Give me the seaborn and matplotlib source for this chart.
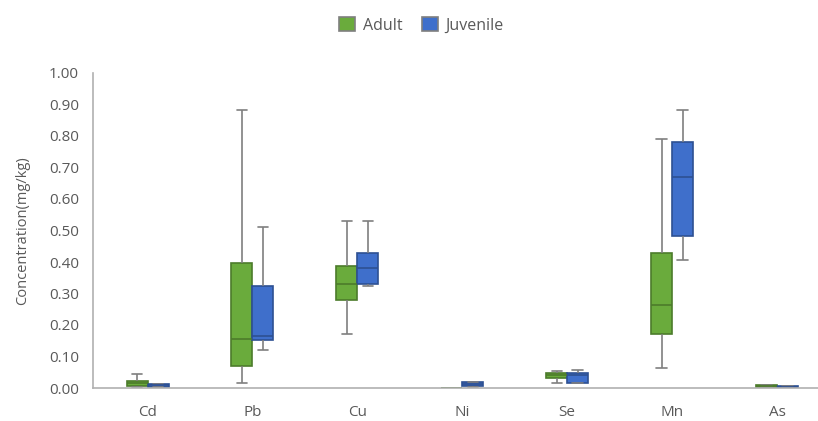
import numpy as np
import pandas as pd
import matplotlib.pyplot as plt
import matplotlib.colors as mcolors
import seaborn as sns

# five-number summaries: [min, q1, median, q3, max]
elements = ["Cd", "Pb", "Cu", "Ni", "Se", "Mn", "As"]
groups = ["Adult", "Juvenile"]

adult = {
    "Cd": [0.003, 0.005, 0.015, 0.022, 0.044],
    "Pb": [0.016, 0.070, 0.155, 0.396, 0.883],
    "Cu": [0.170, 0.280, 0.330, 0.386, 0.530],
    "Ni": [0.000, 0.000, 0.000, 0.000, 0.000],
    "Se": [0.016, 0.032, 0.040, 0.048, 0.055],
    "Mn": [0.063, 0.170, 0.263, 0.430, 0.790],
    "As": [0.002, 0.004, 0.006, 0.009, 0.010],
}
juvenile = {
    "Cd": [0.002, 0.004, 0.008, 0.012, 0.013],
    "Pb": [0.120, 0.152, 0.165, 0.323, 0.510],
    "Cu": [0.325, 0.330, 0.380, 0.427, 0.530],
    "Ni": [0.004, 0.006, 0.012, 0.018, 0.020],
    "Se": [0.016, 0.017, 0.040, 0.048, 0.057],
    "Mn": [0.405, 0.484, 0.670, 0.780, 0.883],
    "As": [0.001, 0.002, 0.004, 0.006, 0.007],
}

colors = ["#6aab3c", "#3f6fcb"]
text_color = "#595959"

rows = []
for grp, d in zip(groups, [adult, juvenile]):
    for el in elements:
        for v in d[el]:
            rows.append({"element": el, "group": grp, "value": v})
df = pd.DataFrame(rows)

sns.set_theme(style="white")
plt.rcParams["font.family"] = ["Open Sans", "DejaVu Sans"]

fig = plt.figure(figsize=(8.18, 4.21), dpi=100)
ax = fig.add_axes([93 / 818, 33 / 421, 1 - 93 / 818, 315 / 421])

sns.boxplot(data=df, x="element", y="value", hue="group", order=elements,
            hue_order=groups, palette=colors, width=0.4, gap=0, whis=(0, 100),
            linecolor="#7f7f7f", linewidth=1.2, saturation=1, ax=ax)

# darker outline and median for each box, like the original
for cont, c in zip(ax.containers, colors):
    dark = np.array(mcolors.to_rgb(c)) * 0.72
    for b in cont.boxes:
        b.set_edgecolor(dark)
    for m in cont.medians:
        m.set_color(dark)

ax.set_xlim(-0.52, 6.39)
ax.set_ylim(0, 1.0)
ax.set_yticks(np.arange(0, 1.01, 0.1))
ax.set_yticklabels([f"{t:.2f}" for t in np.arange(0, 1.01, 0.1)])
ax.tick_params(axis="both", length=0, labelsize=11, labelcolor=text_color, pad=10)
ax.tick_params(axis="x", pad=12)
ax.set_xlabel("")
ax.set_ylabel("Concentration(mg/kg)", fontsize=10.5, color=text_color, labelpad=14)

for side in ["top", "right"]:
    ax.spines[side].set_visible(False)
for side in ["left", "bottom"]:
    ax.spines[side].set_color("#b0b0b0")
    ax.spines[side].set_linewidth(1.2)

sns.move_legend(ax, "center", bbox_to_anchor=(0.515, 0.94),
                bbox_transform=fig.transFigure, ncol=2,
                title=None, frameon=False, fontsize=11.5, handlelength=1.0,
                handleheight=1.0, columnspacing=1.2, handletextpad=0.5)
for t in ax.get_legend().get_texts():
    t.set_color(text_color)

fig.savefig("out.png", dpi=100)
